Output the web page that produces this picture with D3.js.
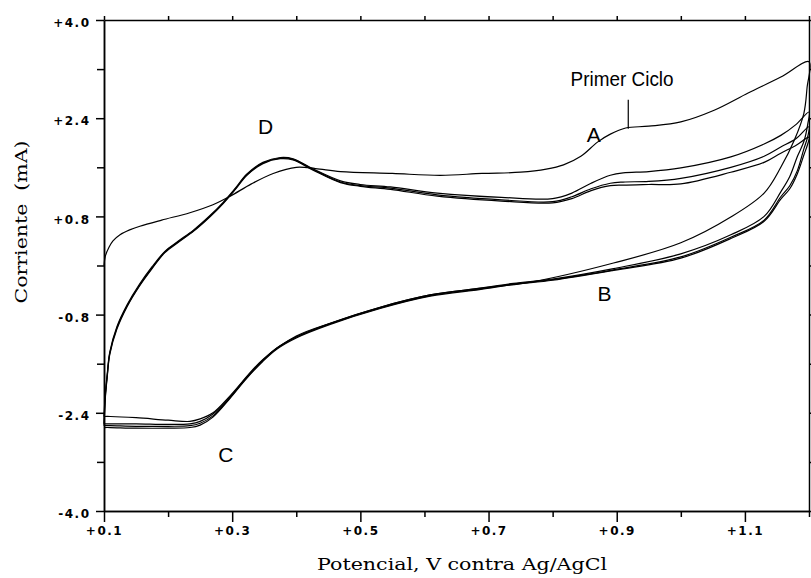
<!DOCTYPE html>
<html>
<head>
<meta charset="utf-8">
<script src="https://cdn.jsdelivr.net/npm/d3@7"></script>
<style>
  body { margin: 0; background: #fff; }
  .tick text { font-family: "DejaVu Sans", sans-serif; font-weight: bold; font-size: 12px; letter-spacing: 1.5px; fill: #000; }
  .tick line, .domain { stroke: #000; stroke-width: 1.5; }
  .note { font-family: "Liberation Sans", Arial, sans-serif; font-size: 21px; fill: #000; }
  .title { font-family: "DejaVu Serif", serif; font-size: 17px; fill: #000; white-space: pre; }
</style>
</head>
<body>
<svg id="chart" width="811" height="578"></svg>
<script>
// tick values
let xMajor = [0.1, 0.3, 0.5, 0.7, 0.9, 1.1];
let xMinor = [0.2, 0.4, 0.6, 0.8, 1.0, 1.2];
let yMajor = [-4.0, -2.4, -0.8, 0.8, 2.4, 4.0];
let yMinor = [-3.2, -1.6, 0, 1.6, 3.2];

// cycle 1 (first sweep), [potential V, current mA]
let cycle1 = [
  [0.100, 0.00], [0.102, 0.15], [0.108, 0.30], [0.114, 0.40], [0.125, 0.50], [0.140, 0.58],
  [0.156, 0.64], [0.190, 0.74], [0.234, 0.86], [0.270, 0.99], [0.297, 1.13], [0.330, 1.33],
  [0.364, 1.50], [0.400, 1.60], [0.430, 1.58], [0.469, 1.53], [0.550, 1.50], [0.625, 1.47],
  [0.690, 1.50], [0.750, 1.52], [0.790, 1.57], [0.817, 1.64], [0.844, 1.78], [0.870, 2.01],
  [0.890, 2.14], [0.914, 2.24], [0.950, 2.27], [1.000, 2.34], [1.052, 2.53], [1.105, 2.81],
  [1.156, 3.07], [1.200, 3.32],
  [1.197, 2.90], [1.192, 2.48], [1.177, 2.04], [1.156, 1.60], [1.130, 1.18], [1.078, 0.79],
  [1.000, 0.37], [0.895, 0.04], [0.766, -0.27], [0.688, -0.37], [0.609, -0.48], [0.531, -0.68],
  [0.453, -0.94], [0.400, -1.15], [0.348, -1.53], [0.297, -2.12], [0.270, -2.40], [0.250, -2.50],
  [0.234, -2.54], [0.200, -2.52], [0.150, -2.48], [0.110, -2.46], [0.100, -2.46]
];

let cycle2 = [
  [0.100, -2.46], [0.102, -2.10], [0.105, -1.77], [0.109, -1.41], [0.120, -1.00], [0.136, -0.64],
  [0.155, -0.31], [0.175, -0.02], [0.195, 0.23], [0.215, 0.39], [0.240, 0.58], [0.265, 0.81],
  [0.286, 1.03], [0.305, 1.26], [0.323, 1.49], [0.348, 1.68], [0.375, 1.76], [0.395, 1.74],
  [0.427, 1.57], [0.469, 1.38], [0.500, 1.32], [0.547, 1.28], [0.620, 1.18], [0.720, 1.11],
  [0.800, 1.09], [0.830, 1.18], [0.860, 1.34], [0.890, 1.47], [0.910, 1.51], [0.950, 1.53],
  [1.000, 1.59], [1.078, 1.77], [1.130, 1.98], [1.156, 2.12], [1.180, 2.30], [1.200, 2.50],
  [1.198, 2.30], [1.192, 2.02], [1.182, 1.78], [1.170, 1.45], [1.156, 1.20], [1.130, 0.80],
  [1.078, 0.50], [1.000, 0.19], [0.895, -0.05], [0.800, -0.22], [0.739, -0.29], [0.688, -0.37],
  [0.609, -0.48], [0.531, -0.68], [0.453, -0.94], [0.400, -1.16], [0.370, -1.34], [0.348, -1.54],
  [0.320, -1.85], [0.297, -2.14], [0.270, -2.42], [0.250, -2.54], [0.234, -2.58], [0.200, -2.59],
  [0.150, -2.58], [0.110, -2.58], [0.100, -2.58]
];

let cycle3 = [
  [0.100, -2.58], [0.102, -2.14], [0.105, -1.80], [0.109, -1.43], [0.120, -1.02], [0.136, -0.66],
  [0.155, -0.33], [0.175, -0.04], [0.195, 0.22], [0.215, 0.38], [0.240, 0.57], [0.265, 0.80],
  [0.286, 1.02], [0.305, 1.25], [0.323, 1.48], [0.348, 1.67], [0.375, 1.75], [0.395, 1.73],
  [0.427, 1.56], [0.469, 1.36], [0.500, 1.30], [0.547, 1.26], [0.620, 1.15], [0.720, 1.07],
  [0.800, 1.04], [0.830, 1.12], [0.860, 1.25], [0.890, 1.34], [0.910, 1.36], [0.950, 1.37],
  [1.000, 1.42], [1.078, 1.60], [1.130, 1.78], [1.156, 1.93], [1.180, 2.07], [1.200, 2.26],
  [1.198, 2.10], [1.192, 1.90], [1.182, 1.55], [1.170, 1.30], [1.156, 1.12], [1.130, 0.74],
  [1.078, 0.46], [1.000, 0.14], [0.895, -0.07], [0.800, -0.23], [0.739, -0.30], [0.688, -0.38],
  [0.609, -0.49], [0.531, -0.69], [0.453, -0.95], [0.400, -1.17], [0.370, -1.35], [0.348, -1.55],
  [0.320, -1.86], [0.297, -2.15], [0.270, -2.45], [0.250, -2.57], [0.234, -2.61], [0.200, -2.62],
  [0.150, -2.62], [0.110, -2.61], [0.100, -2.61]
];

let cycle4 = [
  [0.100, -2.61], [0.102, -2.17], [0.105, -1.82], [0.109, -1.45], [0.120, -1.04], [0.136, -0.67],
  [0.155, -0.34], [0.175, -0.05], [0.195, 0.21], [0.215, 0.37], [0.240, 0.56], [0.265, 0.79],
  [0.286, 1.01], [0.305, 1.24], [0.323, 1.47], [0.348, 1.66], [0.375, 1.74], [0.395, 1.72],
  [0.427, 1.55], [0.469, 1.35], [0.500, 1.29], [0.547, 1.24], [0.620, 1.13], [0.720, 1.05],
  [0.800, 1.02], [0.830, 1.09], [0.860, 1.22], [0.890, 1.30], [0.910, 1.31], [0.950, 1.32],
  [1.000, 1.33], [1.078, 1.52], [1.130, 1.68], [1.156, 1.83], [1.180, 1.96], [1.200, 2.09],
  [1.198, 1.98], [1.192, 1.80], [1.182, 1.50], [1.170, 1.25], [1.156, 1.08], [1.130, 0.72],
  [1.078, 0.44], [1.000, 0.12], [0.895, -0.08], [0.800, -0.24], [0.739, -0.31], [0.688, -0.39],
  [0.609, -0.50], [0.531, -0.70], [0.453, -0.96], [0.400, -1.18], [0.370, -1.36], [0.348, -1.56],
  [0.320, -1.87], [0.297, -2.16], [0.270, -2.47], [0.250, -2.60], [0.234, -2.64], [0.200, -2.65],
  [0.150, -2.65], [0.110, -2.64], [0.100, -2.64]
];

let cycles = [cycle1, cycle2, cycle3, cycle4];

let margin = {top: 20, right: 2, bottom: 67, left: 104};
let width = 811 - margin.left - margin.right;
let height = 578 - margin.top - margin.bottom;

let svg = d3.select("#chart");
let g = svg.append("g").attr("transform", "translate(" + margin.left + "," + margin.top + ")");

let x = d3.scaleLinear().domain([0.1, 1.2]).range([0, width]);
let y = d3.scaleLinear().domain([-4.0, 4.0]).range([height, 0]);

let fmt = d => (d > 0 ? "+" : "") + d.toFixed(1);

// frame: top and right with small outward ticks
g.append("g").attr("class", "axis")
  .call(d3.axisTop(x).tickValues(xMajor.concat(xMinor)).tickSize(4).tickSizeOuter(0).tickFormat(""));
g.append("g").attr("class", "axis")
  .attr("transform", "translate(" + width + ",0)")
  .call(d3.axisRight(y).tickValues(yMajor.concat(yMinor)).tickSize(4).tickSizeOuter(0).tickFormat(""));

// bottom axis
g.append("g").attr("class", "axis")
  .attr("transform", "translate(0," + height + ")")
  .call(d3.axisBottom(x).tickValues(xMinor).tickSize(6).tickSizeOuter(0).tickFormat(""));
let xAx = g.append("g").attr("class", "axis")
  .attr("transform", "translate(0," + height + ")")
  .call(d3.axisBottom(x).tickValues(xMajor).tickSize(11).tickSizeOuter(0).tickFormat(fmt));
xAx.selectAll(".tick text").attr("y", 15).attr("dy", "0.71em");

// left axis
g.append("g").attr("class", "axis")
  .call(d3.axisLeft(y).tickValues(yMinor).tickSize(7).tickSizeOuter(0).tickFormat(""));
let yAx = g.append("g").attr("class", "axis")
  .call(d3.axisLeft(y).tickValues(yMajor).tickSize(8).tickSizeOuter(0).tickFormat(fmt));
yAx.selectAll(".tick text").attr("x", -13.5).attr("dy", "0.55em");

// curves
let line = d3.line()
  .x(d => x(d[0]))
  .y(d => y(d[1]))
  .curve(d3.curveCatmullRom.alpha(0.5));

g.selectAll(".cycle").data(cycles).enter()
  .append("path")
  .attr("class", "cycle")
  .attr("d", line)
  .attr("fill", "none")
  .attr("stroke", "#000")
  .attr("stroke-width", 1.2);

// annotations
let notes = [
  {t: "A", v: 0.864, c: 2.02},
  {t: "B", v: 0.881, c: -0.58},
  {t: "C", v: 0.290, c: -3.20},
  {t: "D", v: 0.352, c: 2.14}
];
g.selectAll(".note").data(notes).enter()
  .append("text")
  .attr("class", "note")
  .attr("x", d => x(d.v))
  .attr("y", d => y(d.c))
  .attr("text-anchor", "middle")
  .text(d => d.t);

g.append("text").attr("class", "note")
  .attr("x", x(0.828)).attr("y", y(2.92))
  .attr("textLength", 103).attr("lengthAdjust", "spacingAndGlyphs")
  .text("Primer Ciclo");
g.append("line")
  .attr("x1", x(0.918)).attr("x2", x(0.918))
  .attr("y1", y(2.70)).attr("y2", y(2.23))
  .attr("stroke", "#000").attr("stroke-width", 1.2);

// axis titles
svg.append("text").attr("class", "title")
  .attr("x", 462).attr("y", 570)
  .attr("text-anchor", "middle")
  .attr("textLength", 290).attr("lengthAdjust", "spacingAndGlyphs")
  .text("Potencial, V contra Ag/AgCl");

svg.append("text").attr("class", "title")
  .attr("transform", "translate(27,222) rotate(-90)")
  .attr("text-anchor", "middle")
  .attr("textLength", 163).attr("lengthAdjust", "spacingAndGlyphs")
  .text("Corriente  (mA)");
</script>
</body>
</html>
